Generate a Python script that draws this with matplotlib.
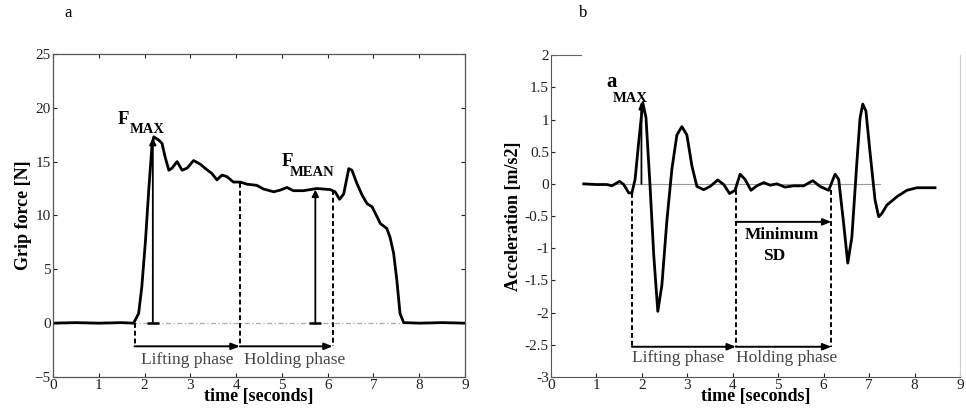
import matplotlib
matplotlib.use("Agg")
import matplotlib.pyplot as plt

plt.rcParams['font.family'] = ['Liberation Serif', 'DejaVu Serif']

# ---- Panel a: grip force ----
force_t = [0.0, 0.5, 1.0, 1.5, 1.76, 1.87, 1.94, 2.02, 2.09, 2.16, 2.2, 2.31, 2.38, 2.45, 2.53,
           2.6, 2.71, 2.82, 2.93, 3.07, 3.22, 3.33, 3.47, 3.58, 3.69, 3.8, 3.94, 4.09, 4.24,
           4.45, 4.6, 4.82, 4.96, 5.11, 5.25, 5.47, 5.76, 6.06, 6.16, 6.26, 6.35, 6.46, 6.53,
           6.64, 6.75, 6.86, 6.97, 7.04, 7.15, 7.29, 7.36, 7.44, 7.51, 7.58, 7.66, 8.0, 8.5, 9.0]
force_n = [0.0, 0.05, 0.0, 0.05, 0.0, 0.9, 3.4, 7.7, 12.3, 16.4, 17.3, 17.0, 16.7, 15.4, 14.2,
           14.4, 15.0, 14.2, 14.4, 15.1, 14.75, 14.35, 13.9, 13.3, 13.75, 13.6, 13.1, 13.1, 12.9,
           12.8, 12.45, 12.2, 12.35, 12.6, 12.3, 12.3, 12.5, 12.4, 12.2, 11.5, 12.0, 14.35, 14.2,
           12.95, 11.9, 11.1, 10.8, 10.2, 9.25, 8.8, 8.0, 6.5, 4.0, 0.9, 0.05, 0.0, 0.05, 0.0]
force_phase_bounds = [1.78, 4.08, 6.11]
force_phase_tops = [0.0, 13.0, 12.4]
f_max_t, f_max_v = 2.18, 17.2
f_mean_t, f_mean_v = 5.73, 12.4

# ---- Panel b: acceleration ----
acc_t = [0.72, 1.0, 1.23, 1.34, 1.51, 1.6, 1.71, 1.78, 1.85, 1.93, 2.02, 2.09, 2.18, 2.26,
         2.35, 2.44, 2.55, 2.66, 2.77, 2.88, 2.99, 3.1, 3.21, 3.36, 3.5, 3.67, 3.8, 3.93,
         4.05, 4.16, 4.27, 4.4, 4.53, 4.68, 4.82, 4.97, 5.15, 5.34, 5.56, 5.76, 5.92, 6.11,
         6.25, 6.33, 6.44, 6.53, 6.62, 6.73, 6.8, 6.86, 6.93, 7.02, 7.13, 7.21, 7.28, 7.39,
         7.61, 7.83, 8.05, 8.45]
acc_v = [0.0, -0.01, -0.01, -0.03, 0.04, -0.01, -0.14, -0.14, 0.07, 0.65, 1.26, 1.03, -0.04, -1.1,
         -1.98, -1.57, -0.57, 0.23, 0.76, 0.89, 0.76, 0.28, -0.04, -0.09, -0.04, 0.06, -0.01, -0.15,
         -0.1, 0.15, 0.07, -0.1, -0.03, 0.02, -0.02, 0.0, -0.05, -0.03, -0.03, 0.05, -0.04, -0.1,
         0.15, 0.07, -0.62, -1.23, -0.83, 0.33, 1.02, 1.24, 1.13, 0.49, -0.25, -0.51, -0.46, -0.33,
         -0.2, -0.1, -0.06, -0.06]
acc_phase_bounds = [1.78, 4.07, 6.17]
acc_phase_tops = [-0.14, -0.1, -0.1]
a_max_t, a_max_v = 1.99, 1.28

fig = plt.figure(figsize=(9.66, 4.09), dpi=100)
axA = fig.add_axes([0.0549, 0.0782, 0.4265, 0.790])
axB = fig.add_axes([0.5704, 0.0782, 0.4234, 0.787])

tick_color = '#222222'
for ax in (axA, axB):
    ax.tick_params(direction='in', labelsize=11, colors=tick_color, length=3, pad=1.5)
    ax.set_xlim(0, 9)
    ax.set_xticks(range(0, 10))
    ax.set_xlabel('time [seconds]', fontsize=13, fontweight='bold', labelpad=-3)

arrow_v = dict(arrowstyle='-|>,head_width=0.2,head_length=0.4', color='black', lw=1.3, shrinkA=0, shrinkB=0)
arrow_h = dict(arrowstyle='-|>,head_width=0.2,head_length=0.5', color='black', lw=1.4, shrinkA=0, shrinkB=0)
phase_color = '#444444'

# Panel a
axA.set_ylim(-5, 25)
axA.set_yticks(range(-5, 30, 5))
axA.tick_params(top=True, right=True)
for s in axA.spines.values():
    s.set_color('#555555')
    s.set_linewidth(0.9)
axA.plot([0, 7.6], [0, 0], color='#aaaaaa', lw=0.9, ls=(0, (4, 2, 1, 2)))
axA.plot(force_t, force_n, color='black', lw=2.0)
axA.set_ylabel('Grip force [N]', fontsize=13, fontweight='bold', labelpad=2)
for t, v in ((f_max_t, f_max_v), (f_mean_t, f_mean_v)):
    axA.annotate('', xy=(t, v), xytext=(t, 0), arrowprops=arrow_v)
    axA.plot([t], [0], marker='_', ms=9, mew=1.8, color='black')
y_arr_a = -2.15
for b, top in zip(force_phase_bounds, force_phase_tops):
    axA.plot([b, b], [top, y_arr_a], color='black', lw=1.4, ls=(0, (2.5, 1.5)))
for b0, b1 in zip(force_phase_bounds[:-1], force_phase_bounds[1:]):
    axA.annotate('', xy=(b1, y_arr_a), xytext=(b0, y_arr_a), arrowprops=arrow_h)
axA.text(2.93, -3.45, 'Lifting phase', ha='center', va='center', fontsize=12.5, color=phase_color)
axA.text(5.28, -3.45, 'Holding phase', ha='center', va='center', fontsize=12.5, color=phase_color)
axA.text(1.42, 18.9, 'F', ha='left', va='center', fontsize=13.5, fontweight='bold')
axA.text(1.68, 17.95, 'MAX', ha='left', va='center', fontsize=10.5, fontweight='bold')
axA.text(5.0, 15.05, 'F', ha='left', va='center', fontsize=13.5, fontweight='bold')
axA.text(5.17, 13.95, 'MEAN', ha='left', va='center', fontsize=10.5, fontweight='bold')

# Panel b
axB.set_ylim(-3, 2)
axB.set_yticks([-3, -2.5, -2, -1.5, -1, -0.5, 0, 0.5, 1, 1.5, 2])
axB.set_yticklabels(['-3', '-2.5', '-2', '-1.5', '-1', '-0.5', '0', '0.5', '1', '1.5', '2'])
axB.spines['left'].set_color('#555555')
axB.spines['bottom'].set_color('#555555')
axB.spines['right'].set_color('#cccccc')
axB.spines['top'].set_color('#666666')
axB.spines['top'].set_bounds(0, 0.65)
axB.plot([0.72, 7.24], [0, 0], color='#999999', lw=0.8)
axB.plot(acc_t, acc_v, color='black', lw=2.0)
axB.set_ylabel('Acceleration [m/s2]', fontsize=13, fontweight='bold', labelpad=2)
axB.annotate('', xy=(a_max_t, a_max_v), xytext=(a_max_t, 0),
             arrowprops=dict(arrowstyle='-|>,head_width=0.15,head_length=0.4', color='black', lw=1.3, shrinkA=0, shrinkB=0))
y_arr_b = -2.53
for b, top in zip(acc_phase_bounds, acc_phase_tops):
    axB.plot([b, b], [top, y_arr_b], color='black', lw=1.4, ls=(0, (2.5, 1.5)))
for b0, b1 in zip(acc_phase_bounds[:-1], acc_phase_bounds[1:]):
    axB.annotate('', xy=(b1, y_arr_b), xytext=(b0, y_arr_b), arrowprops=arrow_h)
axB.annotate('', xy=(acc_phase_bounds[2], -0.59), xytext=(acc_phase_bounds[1], -0.59), arrowprops=arrow_h)
axB.text(5.08, -0.8, 'Minimum', ha='center', va='center', fontsize=12.5, fontweight='bold')
axB.text(4.92, -1.12, 'SD', ha='center', va='center', fontsize=12.5, fontweight='bold')
axB.text(2.81, -2.71, 'Lifting phase', ha='center', va='center', fontsize=12.5, color=phase_color)
axB.text(5.19, -2.71, 'Holding phase', ha='center', va='center', fontsize=12.5, color=phase_color)
axB.text(1.22, 1.58, 'a', ha='left', va='center', fontsize=15, fontweight='bold')
axB.text(1.36, 1.33, 'MAX', ha='left', va='center', fontsize=10.5, fontweight='bold')

fig.text(68 / 966, 1 - 13 / 409, 'a', ha='center', va='center', fontsize=12)
fig.text(583 / 966, 1 - 13 / 409, 'b', ha='center', va='center', fontsize=12)

fig.savefig('out.png', dpi=100)
